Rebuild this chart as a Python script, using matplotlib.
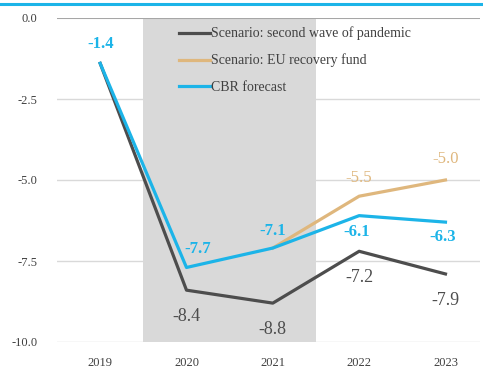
import matplotlib.pyplot as plt
from matplotlib.lines import Line2D

years = ['2019', '2020', '2021', '2022', '2023']
second_wave = [-1.4, -8.4, -8.8, -7.2, -7.9]
eu_fund_years = [2, 3, 4]
eu_fund = [-7.1, -5.5, -5.0]
cbr_forecast = [-1.4, -7.7, -7.1, -6.1, -6.3]

DARK = '#4d4d4d'
BEIGE = '#dfb77d'
BLUE = '#1cb4e8'

plt.rcParams['font.family'] = ['Liberation Serif', 'DejaVu Serif']

fig = plt.figure(figsize=(4.83, 3.72), dpi=100)
ax = fig.add_axes([57 / 483, 1 - 342 / 372, 423 / 483, 324 / 372])

# shaded period
ax.axvspan(0.5, 2.5, color='#d9d9d9', zorder=0, lw=0)

for v in [-2.5, -5.0, -7.5, -10.0]:
    ax.axhline(v, color='#d9d9d9', lw=1, zorder=1)
ax.axhline(0, color='#a6a6a6', lw=1.5, zorder=1)

x = range(len(years))
ax.plot(x, second_wave, color=DARK, lw=2.3, zorder=3)
ax.plot(eu_fund_years, eu_fund, color=BEIGE, lw=2.3, zorder=3)
ax.plot(x, cbr_forecast, color=BLUE, lw=2.3, zorder=4)

# data labels (offsets in points)
def label(xi, yi, txt, color, dy, dx=0, weight='normal', size=12):
    ax.annotate(txt, (xi, yi), xytext=(dx, dy), textcoords='offset points',
                ha='center', va='center', color=color, fontsize=size,
                fontweight=weight)

for i, v in enumerate(second_wave[1:], start=1):
    label(i, v, f'{v:.1f}', DARK, -19, size=13)
label(0, cbr_forecast[0], '-1.4', BLUE, 14, weight='bold')
label(1, cbr_forecast[1], '-7.7', BLUE, 13, dx=8, weight='bold')
label(2, cbr_forecast[2], '-7.1', BLUE, 12, weight='bold')
label(3, cbr_forecast[3], '-6.1', BLUE, -12, dx=-2, weight='bold')
label(4, cbr_forecast[4], '-6.3', BLUE, -11, dx=-2, weight='bold')
label(3, eu_fund[1], '-5.5', BEIGE, 13)
label(4, eu_fund[2], '-5.0', BEIGE, 15)

ax.set_xlim(-0.5, 4.4)
ax.set_ylim(-10, 0)
ax.set_xticks(list(x))
ax.set_xticklabels(years, fontsize=9, color='#404040')
ax.set_yticks([0, -2.5, -5.0, -7.5, -10.0])
ax.set_yticklabels(['0.0', '-2.5', '-5.0', '-7.5', '-10.0'], fontsize=9, color='#404040')
ax.tick_params(axis='x', length=0, pad=11)
ax.tick_params(axis='y', length=0, pad=14)
for s in ax.spines.values():
    s.set_visible(False)

handles = [Line2D([], [], color=DARK, lw=2.3),
           Line2D([], [], color=BEIGE, lw=2.3),
           Line2D([], [], color=BLUE, lw=2.3)]
names = ['Scenario: second wave of pandemic', 'Scenario: EU recovery fund', 'CBR forecast']
ax.legend(handles, names, loc='upper left', bbox_to_anchor=(0.26, 1.012), frameon=False,
          fontsize=10, handlelength=2.2, handletextpad=0.1, labelspacing=0.95,
          labelcolor='#404040')

# top rule
fig.add_artist(Line2D([0, 1], [1 - 4 / 372, 1 - 4 / 372], color=BLUE, lw=2.2))

fig.savefig('out.png', dpi=100)
